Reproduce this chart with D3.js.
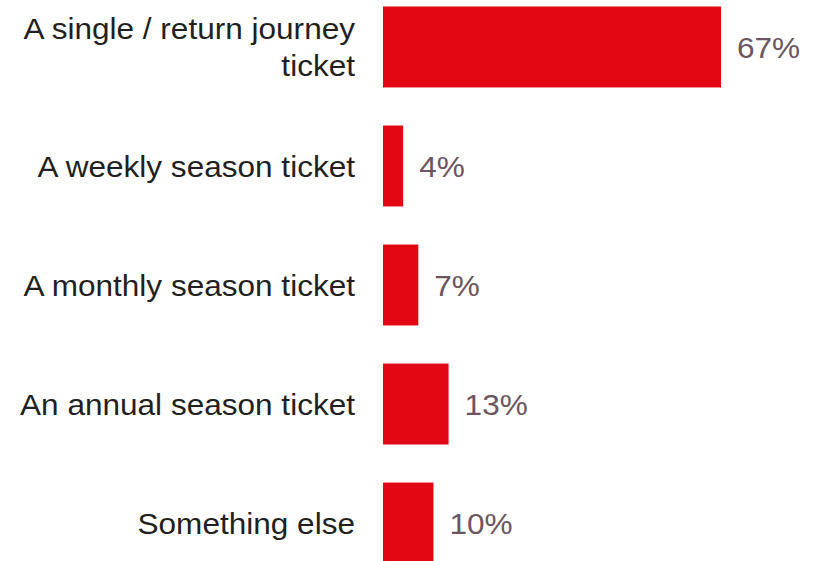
<!DOCTYPE html>
<html>
<head>
<meta charset="utf-8">
<script src="https://cdn.jsdelivr.net/npm/d3@7"></script>
<style>
  html, body { margin: 0; padding: 0; background: #ffffff; }
  svg { display: block; }
</style>
</head>
<body>
<svg id="chart" width="816" height="561"></svg>
<script>
// Ticket type shares (%)
const categories = [
  ["A single / return journey", "ticket"],
  ["A weekly season ticket"],
  ["A monthly season ticket"],
  ["An annual season ticket"],
  ["Something else"]
];
const values = [67, 4, 7, 13, 10];

const svg = d3.select("#chart");
const fontSize = 29.5;
const stretch = 1.07; // slightly widened lettering
const font = "'Liberation Sans', Arial, sans-serif";

const y = d3.scaleBand()
  .domain(d3.range(categories.length))
  .range([6.5, 563.5])
  .paddingInner(0.32)
  .paddingOuter(0);

const x = d3.scaleLinear().domain([0, 100]).range([383, 887.5]);

// Bars
svg.selectAll("rect.bar")
  .data(values)
  .join("rect")
  .attr("class", "bar")
  .attr("x", x(0))
  .attr("y", (d, i) => y(i))
  .attr("width", d => x(d) - x(0))
  .attr("height", y.bandwidth())
  .attr("fill", "#E30613");

// Category labels, right-aligned against the bars
const lineGap = 37.5;
const cats = svg.selectAll("g.cat")
  .data(categories)
  .join("g")
  .attr("class", "cat")
  .attr("transform", (d, i) => `translate(355,${y(i) + y.bandwidth() / 2}) scale(${stretch},1)`)
  .append("text")
  .attr("text-anchor", "end")
  .attr("font-family", font)
  .attr("font-size", fontSize)
  .attr("fill", "#231F20");

cats.each(function(lines) {
  const first = fontSize * 0.36 - (lines.length - 1) * lineGap / 2;
  d3.select(this).selectAll("tspan")
    .data(lines)
    .join("tspan")
    .attr("x", 0)
    .attr("y", (l, j) => first + j * lineGap)
    .text(l => l);
});

// Value labels
svg.selectAll("g.val")
  .data(values)
  .join("g")
  .attr("class", "val")
  .attr("transform", (d, i) => `translate(${x(d) + 16},${y(i) + y.bandwidth() / 2}) scale(${stretch},1)`)
  .append("text")
  .attr("y", fontSize * 0.36)
  .attr("font-family", font)
  .attr("font-size", fontSize)
  .attr("fill", "#6B5560")
  .text(d => d + "%");
</script>
</body>
</html>
